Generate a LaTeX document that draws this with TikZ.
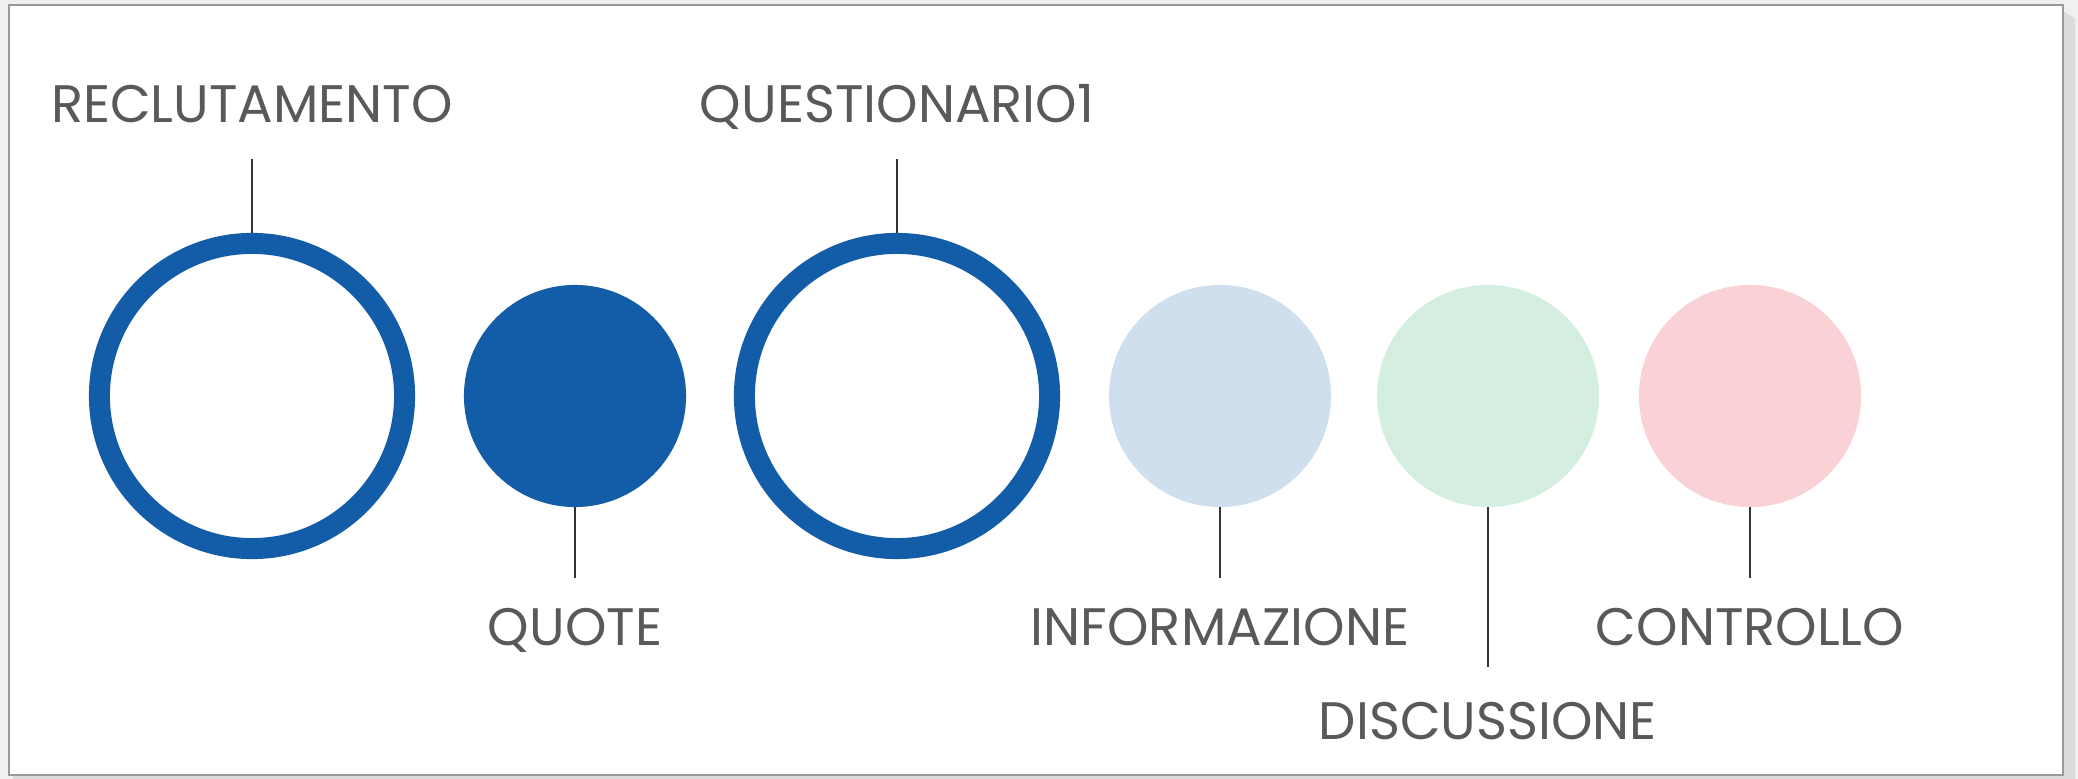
\documentclass[tikz,border=0pt]{standalone}
\usepackage{fontspec}
\setmainfont{Poppins}
\usetikzlibrary{positioning}
\definecolor{ringblue}{HTML}{135CA8}
\definecolor{infoblue}{HTML}{CFDFED}
\definecolor{discgreen}{HTML}{D4EFDF}
\definecolor{ctrlpink}{HTML}{FAD2D5}
\definecolor{labelgray}{HTML}{595959}
\definecolor{framegray}{HTML}{999999}

\begin{document}
\begin{tikzpicture}[x=0.01cm, y=-0.01cm,
  ring/.style = {draw=ringblue, circle, line width=0.21cm, minimum size=3.05cm, inner sep=0pt},
  dot/.style = {circle, minimum size=2.22cm, inner sep=0pt, outer sep=0pt},
  lab/.style = {text=labelgray, font=\fontsize{15}{18}\selectfont, inner sep=0pt, text height=0.37cm, text depth=0pt},
  lead/.style = {line width=0.6pt, draw=black!80}]
% page
\fill[black!6] (0,0) rectangle (2078,779);
\fill[black!14] (13,11) -- (2063,11) -- (2075,19) -- (2075,779) -- (13,779) -- cycle;
\draw[framegray, fill=white, line width=0.5pt] (9,5) rectangle (2063,775);

% circles
\node[ring] (recl) at (252,396) {};
\node[dot, fill=ringblue] (quote) at (575,396) {};
\node[ring] (quest) at (897,396) {};
\node[dot, fill=infoblue] (info) at (1220,396) {};
\node[dot, fill=discgreen] (disc) at (1488,396) {};
\node[dot, fill=ctrlpink] (ctrl) at (1750,396) {};

% labels
\node[lab, above=1.1cm of recl] (recl-t) {RECLUTAMENTO};
\node[lab, above=1.1cm of quest] (quest-t) {QUESTIONARIO1};
\node[lab, below=1.01cm of quote] (quote-t) {QUOTE};
\node[lab, below=1.01cm of info] (info-t) {INFORMAZIONE};
\node[lab, below=1.95cm of disc] (disc-t) {DISCUSSIONE};
\node[lab, below=1.01cm of ctrl] (ctrl-t) {CONTROLLO};

% leaders
\draw[lead, shorten <=0.36cm] (recl-t.south) -- (recl.north);
\draw[lead, shorten <=0.36cm] (quest-t.south) -- (quest.north);
\draw[lead, shorten >=0.3cm] (quote.south) -- (quote-t.north);
\draw[lead, shorten >=0.3cm] (info.south) -- (info-t.north);
\draw[lead, shorten >=0.355cm] (disc.south) -- (disc-t.north);
\draw[lead, shorten >=0.3cm] (ctrl.south) -- (ctrl-t.north);
\end{tikzpicture}
\end{document}
